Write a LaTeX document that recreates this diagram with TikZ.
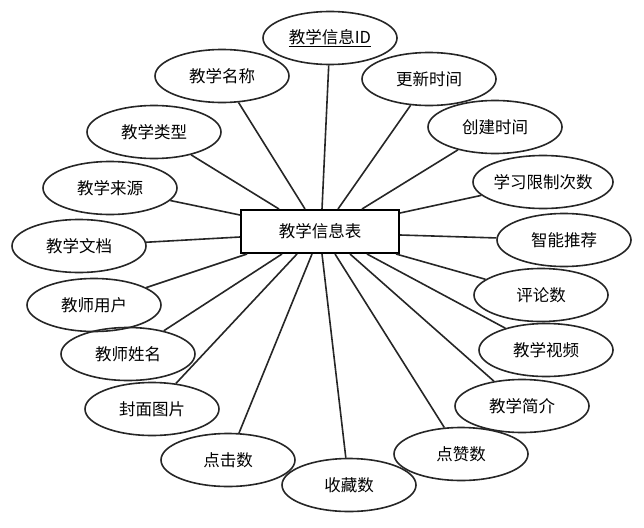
\documentclass[tikz,border=0pt]{standalone}
\usepackage{fontspec}
\newfontfamily\cjk{Noto Sans CJK SC}
\usetikzlibrary{shapes.geometric}
\tikzset{
  attr/.style={ellipse, draw=black!85, line width=1.6pt, minimum width=134pt, minimum height=53pt, inner sep=0pt, font=\cjk\fontsize{16.5}{19}\selectfont},
  entity/.style={rectangle, draw=black, line width=2.4pt, minimum width=158pt, minimum height=43pt, inner sep=0pt, font=\cjk\fontsize{16.5}{19}\selectfont, fill=white},
  link/.style={draw=black!85, line width=1.6pt}
}
\begin{document}
\begin{tikzpicture}[x=1pt,y=-1pt]
\useasboundingbox (0,0) rectangle (644,527);
\node[entity] (box) at (320,231.5) {教学信息表};
% attributes
\node[attr] (id) at (330,38) {\underline{教学信息ID}};
\node[attr] (mc) at (222,76) {教学名称};
\node[attr] (lx) at (154,132) {教学类型};
\node[attr] (ly) at (110,188) {教学来源};
\node[attr] (wd) at (79,246) {教学文档};
\node[attr] (yh) at (94,305) {教师用户};
\node[attr] (xm) at (128,354) {教师姓名};
\node[attr] (fm) at (152,409) {封面图片};
\node[attr] (dj) at (228,460) {点击数};
\node[attr] (sc) at (349,485) {收藏数};
\node[attr] (dz) at (461,454) {点赞数};
\node[attr] (jj) at (522,406) {教学简介};
\node[attr] (sp) at (546,350) {教学视频};
\node[attr] (pl) at (541,295) {评论数};
\node[attr] (tj) at (564,240) {智能推荐};
\node[attr] (xz) at (543,182) {学习限制次数};
\node[attr] (cj) at (495,127) {创建时间};
\node[attr] (gx) at (429,79) {更新时间};
% connection points on the box border
\coordinate (tlx) at (279,209);
\coordinate (tmc) at (305,209);
\coordinate (tid) at (322,209);
\coordinate (tgx) at (338,209);
\coordinate (tcj) at (362,209);
\coordinate (lly) at (240,215);
\coordinate (lwd) at (240,237);
\coordinate (rxz) at (400,213);
\coordinate (rtj) at (400,235);
\coordinate (byh) at (247,254);
\coordinate (bxm) at (282,254);
\coordinate (bfm) at (297,254);
\coordinate (bdj) at (312,254);
\coordinate (bsc) at (322,254);
\coordinate (bdz) at (335,254);
\coordinate (bjj) at (350,254);
\coordinate (bsp) at (367,254);
\coordinate (bpl) at (396,254);
\path[link] (tlx) -- (lx);
\path[link] (tmc) -- (mc);
\path[link] (tid) -- (id);
\path[link] (tgx) -- (gx);
\path[link] (tcj) -- (cj);
\path[link] (lly) -- (ly);
\path[link] (lwd) -- (wd);
\path[link] (rxz) -- (xz);
\path[link] (rtj) -- (tj);
\path[link] (byh) -- (yh);
\path[link] (bxm) -- (xm);
\path[link] (bfm) -- (fm);
\path[link] (bdj) -- (dj);
\path[link] (bsc) -- (sc);
\path[link] (bdz) -- (dz);
\path[link] (bjj) -- (jj);
\path[link] (bsp) -- (sp);
\path[link] (bpl) -- (pl);
\end{tikzpicture}
\end{document}
